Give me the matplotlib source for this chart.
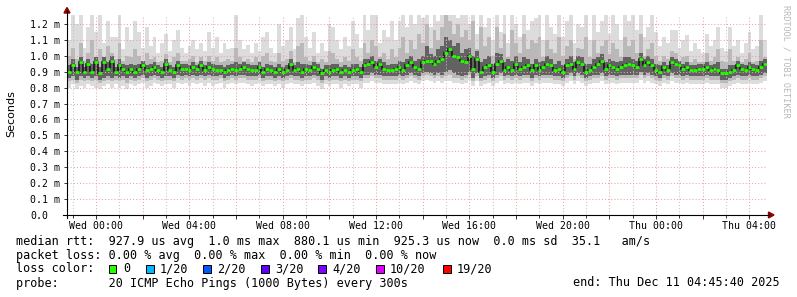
import numpy as np
import matplotlib
matplotlib.use("Agg")
import matplotlib.pyplot as plt
from matplotlib.patches import Polygon, Rectangle
from matplotlib.lines import Line2D

W, H = 797, 297

## time axis in hours relative to Wed 00:00, graph ends Thu 04:45:40
t_end = 28 + 45 / 60 + 40 / 3600
t_start = t_end - 30

## 10 minute steps, values in ms
median = [
    0.90, 0.94, 0.90, 0.96, 0.90, 0.95,  0.90, 0.96, 0.89, 0.96, 0.92, 0.97,
    0.90, 0.94, 0.92, 0.90, 0.92, 0.90,  0.92, 0.94, 0.91, 0.92, 0.93, 0.91,
    0.90, 0.95, 0.91, 0.90, 0.94, 0.92,  0.92, 0.91, 0.93, 0.92, 0.94, 0.91,
    0.93, 0.92, 0.91, 0.91, 0.90, 0.91,  0.92, 0.91, 0.92, 0.93, 0.92, 0.91,
    0.91, 0.93, 0.90, 0.92, 0.91, 0.90,  0.92, 0.90, 0.91, 0.95, 0.91, 0.92,
    0.90, 0.92, 0.91, 0.93, 0.92, 0.89,  0.91, 0.90, 0.91, 0.92, 0.90, 0.91,
    0.90, 0.91, 0.92, 0.90, 0.94, 0.95,  0.96, 0.93, 0.95, 0.92, 0.91, 0.91,
    0.92, 0.93, 0.91, 0.94, 0.96, 0.93,  0.92, 0.96, 0.97, 0.97, 0.95, 0.97,
    0.98, 1.02, 1.04, 1.00, 0.99, 0.97,  0.96, 1.00, 0.92, 0.98, 0.90, 0.93,
    0.94, 0.90, 0.95, 0.97, 0.91, 0.93,  0.91, 0.95, 0.92, 0.93, 0.94, 0.91,
    0.94, 0.91, 0.93, 0.95, 0.94, 0.91,  0.92, 0.90, 0.94, 0.95, 0.92, 0.96,
    0.95, 0.90, 0.91, 0.93, 0.95, 0.97,  0.92, 0.94, 0.93, 0.92, 0.93, 0.94,
    0.95, 0.94, 0.93, 0.98, 0.94, 0.96,  0.94, 0.91, 0.90, 0.93, 0.91, 0.96,
    0.95, 0.94, 0.92, 0.93, 0.91, 0.91,  0.92, 0.92, 0.93, 0.91, 0.92, 0.91,
    0.89, 0.89, 0.90, 0.91, 0.94, 0.92,  0.91, 0.93, 0.92, 0.91, 0.93, 0.95,
]
ping_max = [
    1.10, 1.26, 1.20, 1.26, 1.05, 1.18,  1.26, 1.15, 1.26, 1.08, 1.22, 1.12,
    1.12, 1.26, 1.04, 1.18, 1.10, 1.22,  1.15, 1.05, 1.18, 1.06, 1.12, 1.02,
    1.08, 1.14, 1.03, 1.10, 1.16, 1.05,  1.02, 1.06, 1.10, 1.04, 1.08, 1.03,
    1.15, 1.05, 1.12, 1.02, 1.08, 1.04,  1.05, 1.26, 1.10, 1.04, 1.07, 1.02,
    1.08, 1.03, 1.12, 1.15, 1.05, 1.02,  1.20, 1.06, 1.10, 1.18, 1.04, 1.24,
    1.26, 1.12, 1.05, 1.15, 1.02, 1.08,  1.03, 1.20, 1.18, 1.10, 1.04, 1.12,
    1.06, 1.22, 1.14, 1.05, 1.26, 1.16,  1.26, 1.26, 1.08, 1.16, 1.12, 1.22,
    1.10, 1.22, 1.26, 1.18, 1.26, 1.20,  1.26, 1.24, 1.26, 1.18, 1.26, 1.22,
    1.26, 1.26, 1.26, 1.26, 1.24, 1.26,  1.26, 1.20, 1.26, 1.14, 1.26, 1.18,
    1.24, 1.10, 1.26, 1.15, 1.26, 1.08,  1.26, 1.20, 1.12, 1.26, 1.16, 1.22,
    1.24, 1.26, 1.10, 1.26, 1.18, 1.14,  1.26, 1.12, 1.22, 1.26, 1.08, 1.20,
    1.18, 1.26, 1.10, 1.26, 1.15, 1.22,  1.26, 1.14, 1.26, 1.20, 1.10, 1.26,
    1.22, 1.26, 1.16, 1.26, 1.12, 1.18,  1.26, 1.15, 1.06, 1.12, 1.08, 1.16,
    1.16, 1.05, 1.10, 1.13, 1.03, 1.08,  1.04, 1.02, 1.14, 1.06, 1.10, 1.18,
    1.05, 1.03, 1.18, 1.06, 1.10, 1.02,  1.08, 1.15, 1.04, 1.06, 1.26, 1.10,
]
ping_hi = [
    1.00, 1.05, 0.98, 1.08, 0.97, 1.02,  1.10, 0.99, 1.04, 0.98, 1.06, 1.02,
    0.98, 1.08, 0.97, 1.00, 0.99, 1.04,  1.00, 0.97, 1.02, 0.98, 0.99, 0.96,
    0.97, 1.01, 0.96, 0.99, 1.02, 0.97,  0.97, 0.98, 1.00, 0.96, 0.99, 0.97,
    1.00, 0.97, 0.99, 0.96, 0.97, 0.98,  0.97, 1.05, 0.99, 0.97, 0.98, 0.96,
    0.99, 0.97, 1.00, 1.02, 0.97, 0.96,  1.02, 0.97, 0.98, 1.03, 0.96, 1.06,
    1.08, 0.99, 0.97, 1.00, 0.96, 0.98,  0.96, 1.03, 1.02, 0.98, 0.96, 0.99,
    0.97, 1.04, 0.99, 0.97, 1.08, 1.02,  1.10, 1.06, 0.99, 1.02, 0.98, 1.04,
    0.99, 1.05, 1.12, 1.02, 1.10, 1.04,  1.14, 1.08, 1.20, 1.05, 1.16, 1.10,
    1.18, 1.26, 1.22, 1.14, 1.20, 1.12,  1.16, 1.10, 1.22, 1.04, 1.18, 1.06,
    1.12, 1.00, 1.18, 1.05, 1.14, 0.99,  1.16, 1.08, 1.02, 1.14, 1.04, 1.10,
    1.08, 1.12, 0.99, 1.10, 1.04, 1.02,  1.12, 1.00, 1.06, 1.10, 0.98, 1.05,
    1.04, 1.12, 0.99, 1.10, 1.02, 1.06,  1.10, 1.01, 1.08, 1.04, 0.99, 1.12,
    1.06, 1.10, 1.02, 1.14, 1.00, 1.04,  1.08, 1.00, 0.97, 1.00, 0.98, 1.03,
    1.02, 0.97, 0.99, 1.00, 0.96, 0.98,  0.96, 0.96, 1.02, 0.97, 0.99, 1.04,
    0.97, 0.96, 1.04, 0.97, 0.99, 0.96,  0.98, 1.02, 0.96, 0.97, 1.10, 0.99,
]
core_hi = [
    0.94, 0.98, 0.93, 0.99, 0.93, 0.98,  0.95, 0.99, 0.93, 0.99, 0.96, 1.00,
    0.93, 0.98, 0.95, 0.94, 0.95, 0.94,  0.95, 0.97, 0.94, 0.95, 0.96, 0.94,
    0.93, 0.98, 0.94, 0.93, 0.97, 0.95,  0.95, 0.94, 0.96, 0.94, 0.97, 0.94,
    0.96, 0.95, 0.94, 0.94, 0.93, 0.94,  0.95, 0.96, 0.95, 0.96, 0.95, 0.94,
    0.94, 0.96, 0.93, 0.95, 0.94, 0.93,  0.95, 0.93, 0.94, 0.98, 0.94, 0.96,
    0.95, 0.95, 0.94, 0.96, 0.95, 0.92,  0.94, 0.94, 0.95, 0.95, 0.93, 0.94,
    0.93, 0.95, 0.95, 0.93, 0.98, 0.98,  1.00, 0.97, 0.98, 0.96, 0.94, 0.95,
    0.95, 0.97, 0.96, 0.98, 1.00, 0.97,  0.98, 1.00, 1.06, 1.01, 1.00, 1.04,
    1.06, 1.12, 1.10, 1.06, 1.08, 1.02,  1.04, 1.05, 1.00, 1.03, 0.96, 0.98,
    1.00, 0.95, 1.02, 1.01, 0.96, 0.98,  0.97, 1.00, 0.96, 0.99, 0.98, 0.95,
    0.98, 0.96, 0.97, 1.00, 0.98, 0.95,  0.97, 0.94, 0.98, 1.00, 0.96, 1.00,
    0.99, 0.95, 0.95, 0.98, 0.99, 1.01,  0.96, 0.98, 0.97, 0.96, 0.97, 0.99,
    0.99, 0.98, 0.97, 1.02, 0.98, 1.00,  0.98, 0.95, 0.94, 0.96, 0.94, 0.99,
    0.98, 0.97, 0.95, 0.96, 0.94, 0.94,  0.95, 0.95, 0.96, 0.94, 0.95, 0.96,
    0.92, 0.92, 0.94, 0.94, 0.97, 0.95,  0.94, 0.96, 0.95, 0.94, 0.97, 0.98,
]
core_lo = [
    0.86, 0.87, 0.85, 0.87, 0.86, 0.87,  0.86, 0.87, 0.85, 0.86, 0.87, 0.86,
    0.87, 0.86, 0.87, 0.86, 0.87, 0.86,  0.87, 0.88, 0.86, 0.87, 0.88, 0.87,
    0.86, 0.87, 0.87, 0.86, 0.88, 0.87,  0.88, 0.87, 0.88, 0.87, 0.88, 0.87,
    0.88, 0.87, 0.87, 0.88, 0.86, 0.87,  0.88, 0.87, 0.88, 0.88, 0.87, 0.87,
    0.87, 0.88, 0.86, 0.87, 0.87, 0.86,  0.87, 0.86, 0.87, 0.88, 0.87, 0.87,
    0.86, 0.87, 0.87, 0.88, 0.87, 0.85,  0.87, 0.86, 0.87, 0.87, 0.86, 0.87,
    0.86, 0.87, 0.87, 0.86, 0.88, 0.88,  0.89, 0.88, 0.88, 0.87, 0.87, 0.87,
    0.87, 0.88, 0.87, 0.88, 0.89, 0.88,  0.87, 0.89, 0.90, 0.89, 0.88, 0.89,
    0.88, 0.90, 0.91, 0.89, 0.88, 0.87,  0.88, 0.90, 0.86, 0.89, 0.86, 0.87,
    0.88, 0.86, 0.88, 0.89, 0.87, 0.88,  0.87, 0.88, 0.87, 0.88, 0.88, 0.86,
    0.88, 0.87, 0.88, 0.88, 0.88, 0.87,  0.87, 0.86, 0.88, 0.89, 0.87, 0.89,
    0.88, 0.86, 0.87, 0.88, 0.88, 0.89,  0.87, 0.88, 0.88, 0.87, 0.88, 0.88,
    0.88, 0.88, 0.88, 0.90, 0.88, 0.89,  0.88, 0.87, 0.86, 0.88, 0.87, 0.89,
    0.88, 0.88, 0.87, 0.88, 0.87, 0.87,  0.87, 0.87, 0.88, 0.87, 0.87, 0.87,
    0.85, 0.85, 0.86, 0.87, 0.88, 0.87,  0.87, 0.88, 0.87, 0.87, 0.88, 0.89,
]
ping_lo = [
    0.84, 0.85, 0.83, 0.85, 0.84, 0.85,  0.84, 0.85, 0.83, 0.84, 0.85, 0.84,
    0.85, 0.84, 0.85, 0.83, 0.85, 0.84,  0.85, 0.86, 0.84, 0.85, 0.86, 0.85,
    0.84, 0.85, 0.85, 0.84, 0.86, 0.85,  0.86, 0.85, 0.86, 0.85, 0.86, 0.85,
    0.86, 0.85, 0.85, 0.86, 0.84, 0.85,  0.86, 0.85, 0.86, 0.86, 0.85, 0.85,
    0.85, 0.86, 0.84, 0.85, 0.85, 0.84,  0.85, 0.84, 0.85, 0.86, 0.85, 0.85,
    0.84, 0.85, 0.85, 0.86, 0.85, 0.83,  0.85, 0.84, 0.85, 0.85, 0.84, 0.85,
    0.84, 0.85, 0.85, 0.84, 0.86, 0.86,  0.87, 0.86, 0.86, 0.85, 0.85, 0.85,
    0.85, 0.86, 0.85, 0.86, 0.87, 0.86,  0.85, 0.87, 0.88, 0.87, 0.86, 0.87,
    0.86, 0.87, 0.88, 0.86, 0.86, 0.85,  0.86, 0.88, 0.84, 0.87, 0.84, 0.85,
    0.86, 0.84, 0.86, 0.87, 0.85, 0.86,  0.85, 0.86, 0.85, 0.86, 0.86, 0.84,
    0.86, 0.85, 0.86, 0.86, 0.86, 0.85,  0.85, 0.84, 0.86, 0.87, 0.85, 0.87,
    0.86, 0.84, 0.85, 0.86, 0.86, 0.87,  0.85, 0.86, 0.86, 0.85, 0.86, 0.86,
    0.86, 0.86, 0.86, 0.88, 0.86, 0.87,  0.86, 0.85, 0.84, 0.86, 0.85, 0.87,
    0.86, 0.86, 0.85, 0.86, 0.85, 0.85,  0.85, 0.85, 0.86, 0.85, 0.85, 0.85,
    0.83, 0.83, 0.84, 0.85, 0.86, 0.85,  0.85, 0.86, 0.85, 0.85, 0.86, 0.87,
]
ping_min = [
    0.80, 0.82, 0.79, 0.81, 0.80, 0.82,  0.81, 0.80, 0.79, 0.81, 0.82, 0.80,
    0.82, 0.80, 0.81, 0.79, 0.82, 0.81,  0.82, 0.83, 0.80, 0.81, 0.83, 0.82,
    0.81, 0.82, 0.82, 0.80, 0.83, 0.82,  0.83, 0.81, 0.83, 0.82, 0.83, 0.81,
    0.83, 0.81, 0.82, 0.83, 0.80, 0.82,  0.83, 0.82, 0.83, 0.83, 0.82, 0.81,
    0.82, 0.83, 0.81, 0.82, 0.82, 0.81,  0.82, 0.80, 0.82, 0.83, 0.82, 0.82,
    0.81, 0.82, 0.82, 0.83, 0.81, 0.79,  0.82, 0.81, 0.82, 0.82, 0.80, 0.82,
    0.81, 0.82, 0.82, 0.80, 0.83, 0.83,  0.84, 0.83, 0.83, 0.82, 0.82, 0.82,
    0.82, 0.83, 0.82, 0.83, 0.84, 0.83,  0.82, 0.84, 0.85, 0.84, 0.83, 0.84,
    0.83, 0.84, 0.84, 0.83, 0.83, 0.82,  0.83, 0.85, 0.81, 0.84, 0.81, 0.82,
    0.83, 0.81, 0.83, 0.84, 0.82, 0.83,  0.82, 0.83, 0.82, 0.83, 0.83, 0.81,
    0.83, 0.82, 0.83, 0.83, 0.83, 0.82,  0.82, 0.81, 0.83, 0.84, 0.82, 0.84,
    0.83, 0.81, 0.82, 0.83, 0.83, 0.84,  0.82, 0.83, 0.83, 0.82, 0.83, 0.83,
    0.83, 0.83, 0.83, 0.85, 0.83, 0.84,  0.83, 0.82, 0.81, 0.83, 0.82, 0.84,
    0.83, 0.83, 0.82, 0.83, 0.82, 0.82,  0.82, 0.82, 0.83, 0.82, 0.82, 0.82,
    0.80, 0.80, 0.81, 0.82, 0.83, 0.82,  0.82, 0.83, 0.82, 0.82, 0.83, 0.84,
]

y_ticks = [0.0, 0.1, 0.2, 0.3, 0.4, 0.5, 0.6, 0.7, 0.8, 0.9, 1.0, 1.1, 1.2]
y_labels = ["0.0"] + ["%.1f m" % v for v in y_ticks[1:]]
x_label_hours = [0, 4, 8, 12, 16, 20, 24, 28]
x_labels = ["Wed 00:00", "Wed 04:00", "Wed 08:00", "Wed 12:00",
            "Wed 16:00", "Wed 20:00", "Thu 00:00", "Thu 04:00"]

legend_rtt = "median rtt:  927.9 us avg  1.0 ms max  880.1 us min  925.3 us now  0.0 ms sd  35.1   am/s"
legend_loss = "packet loss: 0.00 % avg  0.00 % max  0.00 % min  0.00 % now"
legend_probe = "probe:       20 ICMP Echo Pings (1000 Bytes) every 300s"
legend_end = "end: Thu Dec 11 04:45:40 2025"
loss_labels = ["0", "1/20", "2/20", "3/20", "4/20", "10/20", "19/20"]
loss_colors = ["#26ff00", "#00b8ff", "#0059ff", "#5e00ff", "#7e00ff", "#dd00ff", "#ff0000"]
swatch_x = [109, 146, 203, 261, 318, 376, 443]  # layout, pixels

MONO = ["DejaVu Sans Mono"]
GRID_MAJOR = "#e8a4a4"
GRID_MINOR = "#c4c4c4"
ARROW = "#8b0000"


def fx(x):
    return x / W


def fy(y):
    return 1 - y / H


fig = plt.figure(figsize=(W / 100, H / 100), dpi=100)
fig.patch.set_facecolor("white")
ax = fig.add_axes([fx(67), fy(215), 700 / W, 200 / H])

edges = np.linspace(t_start, t_end, len(median) + 1)

## smoke
ax.stairs(ping_max, edges, baseline=ping_min, fill=True, color="#dcdcdc", zorder=1)
ax.stairs(ping_hi, edges, baseline=ping_lo, fill=True, color="#b9b9b9", zorder=1.1)
ax.stairs(core_hi, edges, baseline=core_lo, fill=True, color="#626262", zorder=1.2)
## median
ax.stairs(median, edges, baseline=None, color="#111111", lw=1.1, zorder=1.3)
ax.hlines(median, edges[:-1], edges[1:], color=loss_colors[0], lw=2.0, zorder=3)

ax.set_xlim(t_start, t_end)
ax.set_ylim(0, 200 / 159.2)

ax.set_yticks(y_ticks)
ax.set_yticklabels(y_labels, family=MONO, fontsize=7.1)
for lab in ax.get_yticklabels():
    lab.set_horizontalalignment("left")
ax.tick_params(axis="y", length=2, width=0.7, pad=24.6, color="#333333")

major_x = np.arange(0, 29, 2)
ax.set_xticks(major_x)
ax.set_xticklabels([x_labels[x_label_hours.index(h)] if h in x_label_hours else "" for h in major_x],
                   family=MONO, fontsize=7.1)
ax.set_xticks(np.arange(-1, 29, 2), minor=True)
ax.tick_params(axis="x", which="major", length=3, width=0.7, pad=1.0, color="#333333")
ax.tick_params(axis="x", which="minor", length=2, width=0.7, color="#333333")

ax.set_axisbelow(False)
dots = (0, (1, 2))
ax.grid(axis="y", which="major", color=GRID_MAJOR, lw=0.75, ls=dots)
ax.grid(axis="x", which="major", color=GRID_MAJOR, lw=0.75, ls=dots)
ax.grid(axis="x", which="minor", color=GRID_MINOR, lw=0.75, ls=dots)

for s in ax.spines.values():
    s.set_visible(False)

## axis lines and arrows
fig.add_artist(Line2D([fx(67), fx(67)], [fy(218), fy(11)], color="black", lw=0.8))
fig.add_artist(Line2D([fx(63), fx(769)], [fy(215), fy(215)], color="black", lw=0.8))
fig.add_artist(Polygon([[fx(67), fy(7.5)], [fx(64), fy(13)], [fx(70), fy(13)]],
                       closed=True, color=ARROW, transform=fig.transFigure))
fig.add_artist(Polygon([[fx(774), fy(215)], [fx(768.5), fy(212)], [fx(768.5), fy(218)]],
                       closed=True, color=ARROW, transform=fig.transFigure))

## labels
fig.text(fx(11), fy(114), "Seconds", rotation=90, ha="center", va="center",
         fontsize=8, family="DejaVu Sans")
fig.text(fx(786), fy(5), "RRDTOOL / TOBI OETIKER", rotation=-90, ha="center", va="top",
         fontsize=6.1, family=MONO, color="#b8b8b8")

## legend
lg = dict(fontsize=8.45, family=MONO, va="baseline", ha="left")
fig.text(fx(16), fy(244.5), legend_rtt, **lg)
fig.text(fx(16), fy(258.5), legend_loss, **lg)
fig.text(fx(16), fy(272.5), "loss color:", **lg)
for x, lab, col in zip(swatch_x, loss_labels, loss_colors):
    fig.add_artist(Rectangle((fx(x), fy(273)), 7.5 / W, 8 / H, facecolor=col,
                             edgecolor="black", lw=0.7, transform=fig.transFigure))
    fig.text(fx(x + 14), fy(272.5), lab, **lg)
fig.text(fx(16), fy(286.5), legend_probe, **lg)
fig.text(fx(780), fy(286.5), legend_end, fontsize=8.45, family=MONO, va="baseline", ha="right")

fig.savefig("out.png", dpi=100)
